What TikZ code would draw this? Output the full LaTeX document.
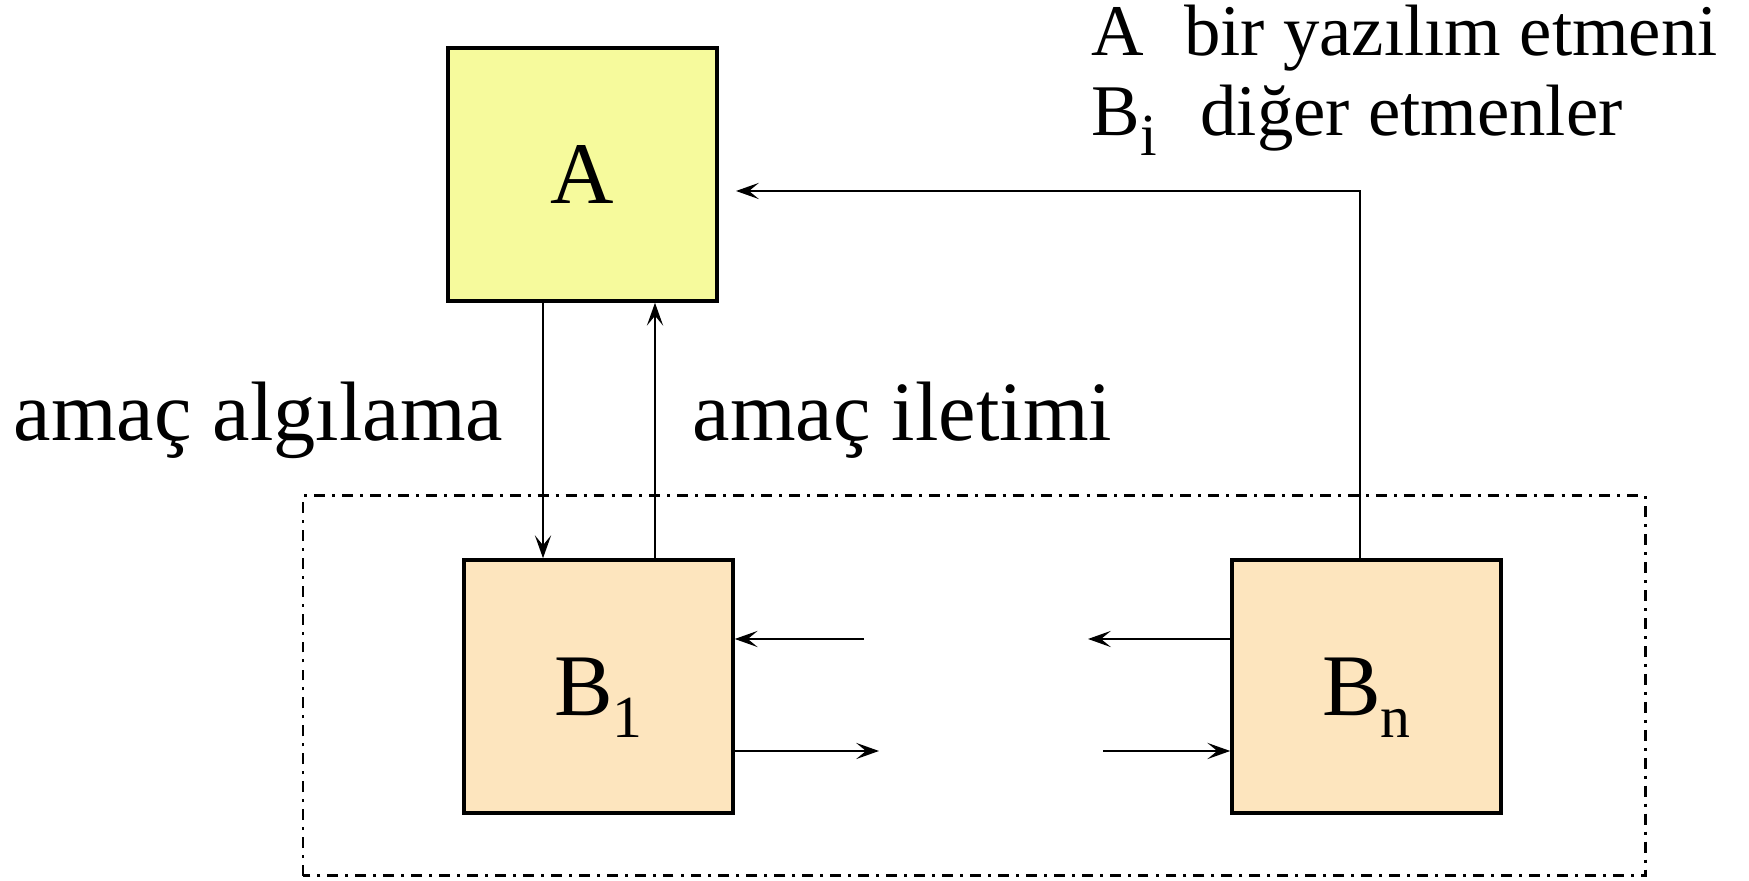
\documentclass[tikz,border=0pt]{standalone}
\usepackage{fontspec}
\setmainfont{Liberation Serif}
\usetikzlibrary{positioning, arrows.meta}
\definecolor{agentA}{RGB}{246,250,156}
\definecolor{agentB}{RGB}{253,229,190}
\newcommand{\lowsub}[2]{\smash{\raisebox{-#2}{\fontsize{17}{17}\selectfont #1}}}

\begin{document}
\begin{tikzpicture}[
  agent/.style={draw, line width=1pt, minimum width=2.69cm, minimum height=2.53cm, inner sep=0pt, font=\fontsize{25}{25}\selectfont},
  link/.style={-{Stealth[length=6.5pt, width=4.6pt, inset=2.8pt]}, line width=0.7pt},
  lab/.style={font=\fontsize{24}{24}\selectfont, anchor=base west, inner sep=0pt},
  key/.style={font=\fontsize{20.7}{20.7}\selectfont, anchor=base west, inner sep=0pt}]
\useasboundingbox (0,0) rectangle (17.49,8.81);
\node[agent, fill=agentA] (a) at (5.825,7.065) {A};
\node[agent, fill=agentB] (b1) at (5.985,1.945) {B\lowsub{1}{6.3pt}};
\node[agent, fill=agentB] (bn) at (13.665,1.945) {B\lowsub{n}{6.3pt}};
% the other agents
\draw[line width=0.85pt, dash pattern=on 3.1pt off 2pt on 0.85pt off 2pt] (3.03,0.05) rectangle (16.45,3.85);
% goal sensing / goal passing between A and B1
\coordinate (dn) at (5.43,0);
\coordinate (up) at (6.55,0);
\draw[link] (a.south -| dn) -- (b1.north -| dn);
\draw[link] (b1.north -| up) -- (a.south -| up);
\coordinate (fb) at (7.36,6.90);
\draw[link] ([xshift=-0.065cm]bn.north) |- (fb);
% messages along the chain
\coordinate (l1) at (8.64,2.42);
\coordinate (l2) at (8.79,1.30);
\coordinate (r1) at (10.88,2.42);
\coordinate (r2) at (11.03,1.30);
\draw[link] (l1) -- (b1.east |- l1);
\draw[link] (b1.east |- l2) -- (l2);
\draw[link] (bn.west |- r1) -- (r1);
\draw[link] (r2) -- (bn.west |- r2);
\node[lab] (sense) at (0.13,4.40) {amaç algılama};
\node[lab] (pass) at (6.92,4.40) {amaç iletimi};
\node[key] (keyA) at (10.91,8.25) {A\hspace{0.55em}bir yazılım etmeni};
\node[key] (keyB) at (10.91,7.45) {B\lowsub{i}{5.5pt}\hspace{0.6em}diğer etmenler};
\end{tikzpicture}
\end{document}
